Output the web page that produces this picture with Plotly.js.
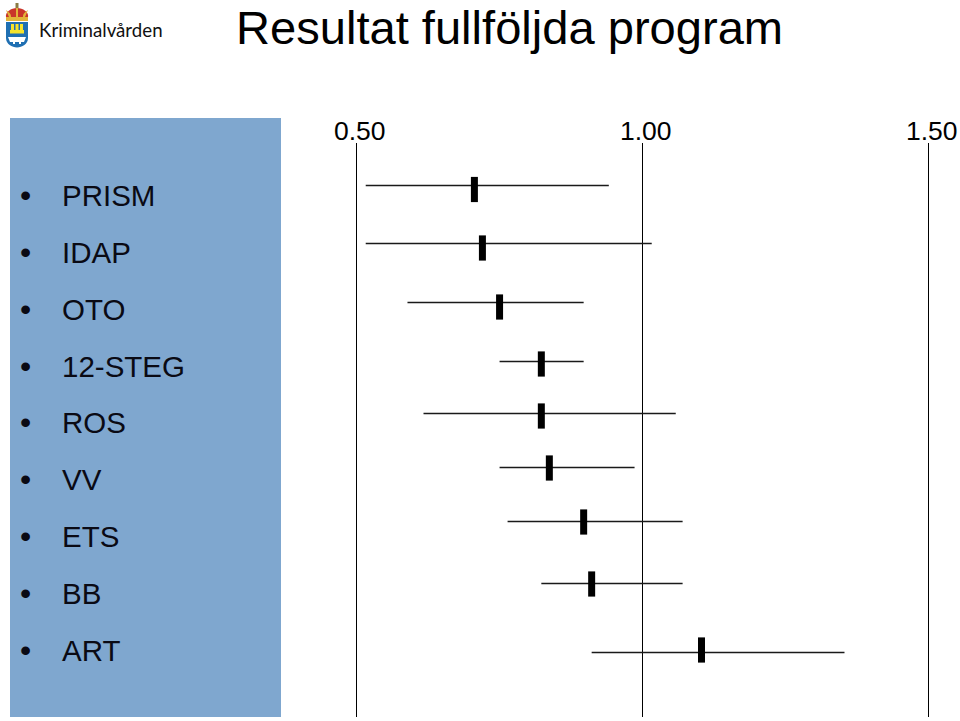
<!DOCTYPE html>
<html>
<head>
<meta charset="utf-8">
<script src="https://cdn.plot.ly/plotly-3.0.1.min.js"></script>
<style>
html, body { margin: 0; padding: 0; background: #fff; }
#graphArea { width: 960px; height: 721px; }
</style>
</head>
<body>
<div id="graphArea"></div>
<script>
var programs = ["PRISM", "IDAP", "OTO", "12-STEG", "ROS", "VV", "ETS", "BB", "ART"];
var lows = [0.517, 0.517, 0.590, 0.751, 0.618, 0.751, 0.765, 0.824, 0.912];
var mids = [0.707, 0.721, 0.751, 0.824, 0.824, 0.838, 0.898, 0.912, 1.104];
var highs = [0.942, 1.017, 0.898, 0.898, 1.059, 0.987, 1.071, 1.071, 1.354];
var tickVals = [0.5, 1.0, 1.5];
var tickLabels = ["0.50", "1.00", "1.50"];

// the rows are not evenly spaced in the picture, y axis runs in page pixels
var lineRows = [185.5, 243.5, 302.5, 361.5, 413.5, 467.5, 521.5, 583.5, 652.5];
var markRows = [189.5, 248, 307, 364, 416, 468, 522, 584, 650];
var labelRows = [195, 252, 309, 366, 422, 479, 536, 593, 650];

var W = 960, H = 721, TOP = 143, BOTTOM = 717;
var font = "Liberation Sans, Arial, sans-serif";

function px(x) { return x / W; }
function py(y) { return (BOTTOM - y) / (BOTTOM - TOP); }

var traces = [];
programs.forEach(function (name, i) {
    traces.push({
        x: [lows[i], highs[i]],
        y: [lineRows[i], lineRows[i]],
        mode: "lines",
        type: "scatter",
        line: { color: "#1a1a1a", width: 1.6 },
        hoverinfo: "skip"
    });
});
traces.push({
    x: mids,
    y: markRows,
    text: programs,
    mode: "markers",
    type: "scatter",
    marker: { symbol: "line-ns", size: 18, color: "#000", line: { color: "#000", width: 7 } }
});

var annotations = [{
    text: "Resultat fullföljda program",
    xref: "paper", yref: "paper", x: px(233.5), y: py(28),
    xanchor: "left", yanchor: "middle", showarrow: false,
    font: { family: font, size: 47.1, color: "#000" }
}, {
    text: "Kriminalvården",
    xref: "paper", yref: "paper", x: px(36.5), y: py(30),
    xanchor: "left", yanchor: "middle", showarrow: false,
    font: { family: "Lato, sans-serif", size: 18.7, color: "#111" }
}];
programs.forEach(function (name, i) {
    annotations.push({
        text: name, xref: "paper", yref: "y", x: px(60), y: labelRows[i],
        xanchor: "left", yanchor: "middle", showarrow: false,
        font: { family: font, size: 29.5, color: "#0a0a14" }
    });
    annotations.push({
        text: "•", xref: "paper", yref: "y", x: px(25.5), y: labelRows[i],
        xanchor: "center", yanchor: "middle", showarrow: false,
        font: { family: font, size: 32, color: "#0a0a14" }
    });
});
// tick labels sit a little right of their lines in the reference
tickVals.forEach(function (v, i) {
    annotations.push({
        text: tickLabels[i], xref: "x", yref: "paper", x: v, y: py(131),
        xshift: 3.5, xanchor: "center", yanchor: "middle", showarrow: false,
        font: { family: font, size: 26.5, color: "#000" }
    });
});

// crest drawn in page pixels, placed at the page corner
var crest = '<svg xmlns="http://www.w3.org/2000/svg" viewBox="0 0 30 50" width="30" height="50">' +
    '<path d="M6 22H28V38C28 44 22 47.5 17 47.5C12 47.5 6 44 6 38Z" fill="#1f6fb2"/>' +
    '<path d="M10 30H24V33.5H10Z M11 24H14V30H11Z M15.5 24H18.5V30H15.5Z M20 24H23V30H20Z" fill="#f6e32a"/>' +
    '<path d="M8 37H26L24 42H21V44H19V42H15V44H13V42H10Z" fill="#fff"/>' +
    '<path d="M6 17C5 12 11 8 17 8C23 8 29 12 28 17Z" fill="#c9342a"/>' +
    '<path d="M6 10C10 13 11 14 11 17H9Z M28 10C24 13 23 14 23 17H25Z M16 8H18V17H16Z" fill="#e2b33a"/>' +
    '<path d="M6 17H28V21H6Z" fill="#e2b33a"/>' +
    '<path d="M15.5 3H18.5V8H15.5Z" fill="#8a7a45"/>' +
    '</svg>';

var layout = {
    width: W,
    height: H,
    margin: { l: 0, r: 0, t: TOP, b: H - BOTTOM, pad: 0 },
    paper_bgcolor: "#fff",
    plot_bgcolor: "rgba(0,0,0,0)",
    showlegend: false,
    hovermode: "closest",
    xaxis: {
        range: [0.5 - 356 / 572, 0.5 + 604 / 572],
        tickmode: "array",
        tickvals: tickVals,
        ticks: "",
        showticklabels: false,
        showline: false,
        zeroline: false,
        showgrid: true,
        gridcolor: "#000",
        gridwidth: 1.3
    },
    yaxis: {
        range: [BOTTOM, TOP],
        visible: false,
        fixedrange: true
    },
    shapes: [{
        type: "rect", xref: "paper", yref: "paper", layer: "below",
        x0: px(10), x1: px(281), y0: py(118), y1: py(717),
        fillcolor: "#7fa7cf", line: { width: 0 }
    }],
    images: [{
        source: "data:image/svg+xml," + encodeURIComponent(crest),
        xref: "paper", yref: "paper", x: 0, y: py(0),
        sizex: px(30), sizey: py(0) - py(50),
        xanchor: "left", yanchor: "top", layer: "above", sizing: "stretch"
    }],
    annotations: annotations
};

Plotly.newPlot("graphArea", traces, layout, { displayModeBar: false });
</script>
</body>
</html>
